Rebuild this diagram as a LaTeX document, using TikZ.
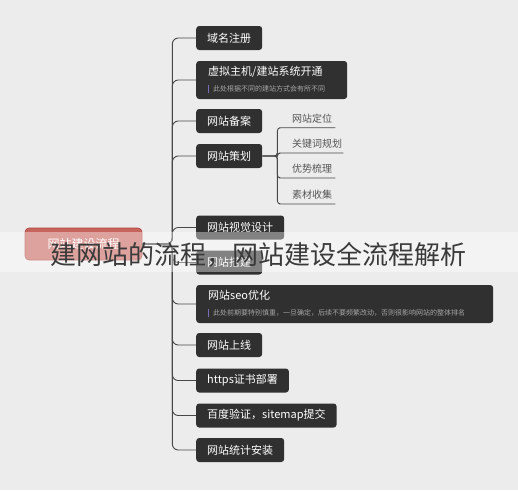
\documentclass[tikz,border=0pt]{standalone}
\usepackage{fontspec}
\setmainfont{Noto Sans CJK SC}
\definecolor{bgc}{RGB}{236,236,236}
\definecolor{boxc}{RGB}{48,48,48}
\definecolor{linec}{RGB}{72,72,72}
\definecolor{rootc}{RGB}{200,100,94}
\definecolor{rootd}{RGB}{170,66,60}
\definecolor{notec}{RGB}{165,165,165}
\definecolor{barc}{RGB}{120,110,180}
\definecolor{subc}{RGB}{85,85,85}
\definecolor{bannerc}{RGB}{58,58,58}
\newcommand{\mynotebar}{{\color{barc}\rule[-1.5pt]{1pt}{8pt}}}
\newcommand{\mynotefont}{\fontsize{7}{9}\selectfont\color{notec}}
\tikzset{
  box/.style={fill=boxc, text=white, rounded corners=3pt, anchor=west,
    font=\fontsize{11}{13}\selectfont, inner xsep=11pt, inner ysep=0pt, minimum height=24pt},
  widebox/.style={box, align=left, inner xsep=12pt, minimum height=38pt,
    font=\fontsize{11}{16}\selectfont},
  rootbox/.style={fill=rootc, draw=rootd, line width=0.6pt, text=white, rounded corners=4pt,
    minimum width=117pt, minimum height=32pt, font=\fontsize{12}{14}\selectfont},
  subitem/.style={anchor=south west, inner xsep=0pt, inner ysep=4pt, align=left,
    text=subc, font=\fontsize{10}{12}\selectfont},
  conn/.style={draw=linec, line width=0.9pt, rounded corners=6pt},
  subconn/.style={draw=linec, line width=0.9pt, rounded corners=3pt}
}
\begin{document}
\begin{tikzpicture}[x=1pt, y=-1pt]
\useasboundingbox (0,0) rectangle (518,490);
\fill[bgc] (0,0) rectangle (518,490);

% root
\node[rootbox] (root) at (83.5,244) {网站建设流程};

% children
\node[box] (domain) at (196,38) {域名注册};
\node[widebox, text width=127pt] (host) at (196,80) {虚拟主机/建站系统开通\\\mynotebar\hspace{4pt}{\mynotefont 此处根据不同的建站方式会有所不同}};
\node[box] (beian) at (196,121) {网站备案};
\node[box] (plan) at (196,156) {网站策划};
\node[box] (visual) at (196,227.5) {网站视觉设计};
\node[box] (build) at (196,262.5) {网站搭建};
\node[widebox, text width=273pt] (seo) at (196,304) {网站seo优化\\\mynotebar\hspace{4pt}{\mynotefont 此处前期要特别慎重，一旦确定，后续不要频繁改动，否则很影响网站的整体排名}};
\node[box] (online) at (196,345) {网站上线};
\node[box] (https) at (196,380.5) {https证书部署};
\node[box] (baidu) at (196,415.5) {百度验证，sitemap提交};
\node[box] (stats) at (196,450) {网站统计安装};

% sub items of plan
\node[subitem, text width=53pt] (s1) at (282,127.7) {\hspace*{10pt}网站定位};
\node[subitem, text width=61pt] (s2) at (282,153) {\hspace*{10pt}关键词规划};
\node[subitem, text width=53pt] (s3) at (282,178) {\hspace*{10pt}优势梳理};
\node[subitem, text width=53pt] (s4) at (282,204) {\hspace*{10pt}素材收集};

% main connectors
\foreach \c in {domain,host,beian,plan,visual,build,seo,online,https,baidu,stats}
  \draw[conn] (root.east) -- ++(30,0) |- (\c.west);

% sub connectors
\foreach \s in {s1,s2,s3,s4}
  \draw[subconn] (plan.east) -- ++(15,0) |- (\s.south west) -- (\s.south east);

% overlay banner
\fill[white, opacity=0.4] (0,232) rectangle (518,272);
\node[text=bannerc, font=\fontsize{26}{30}\selectfont, inner sep=0pt] (banner) at (258,254.5) {建网站的流程，网站建设全流程解析};
\end{tikzpicture}
\end{document}
